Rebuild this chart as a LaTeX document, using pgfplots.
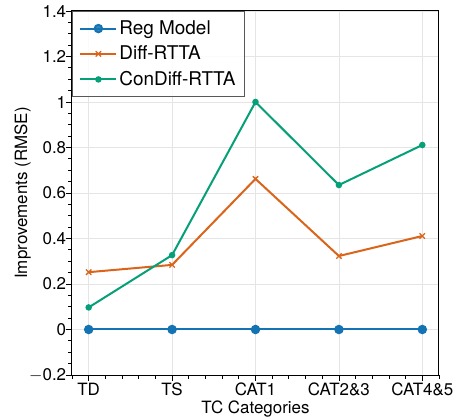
\documentclass[border=0pt]{standalone}
\usepackage{fontspec}
\setmainfont{TeX Gyre Heros}
\usepackage{pgfplots}
\pgfplotsset{compat=1.18}
\definecolor{cblue}{HTML}{1473B3}
\definecolor{corange}{HTML}{D9641A}
\definecolor{cgreen}{HTML}{06A078}
\begin{document}
\fontsize{17}{20}\selectfont
\begin{tikzpicture}
\useasboundingbox (-72bp,-45bp) rectangle (386bp,375bp);
\begin{axis}[
  at={(0,0)}, anchor=south west,
  scale only axis, width=367bp, height=364bp,
  xmin=-0.2, xmax=4.2, ymin=-0.2, ymax=1.4,
  xtick={0,1,2,3,4},
  xticklabels={TD,TS,CAT1,CAT2\&3,CAT4\&5},
  minor xtick={-0.2,0.2,0.4,0.6,0.8,1.2,1.4,1.6,1.8,2.2,2.4,2.6,2.8,3.2,3.4,3.6,3.8,4.2},
  ytick={-0.2,0,0.2,0.4,0.6,0.8,1,1.2,1.4},
  yticklabels={$-$0.2,0,0.2,0.4,0.6,0.8,1,1.2,1.4},
  minor y tick num=3,
  xtick pos=bottom, ytick pos=left,
  tick align=outside,
  major tick length=6bp, minor tick length=3.5bp,
  every tick/.style={black, line width=0.8bp},
  axis line style={line width=1bp},
  grid=major,
  major grid style={gray!20, line width=0.6bp},
  xlabel={TC Categories}, ylabel={Improvements (RMSE)},
  xlabel style={yshift=7bp},
  ylabel style={yshift=-13bp},
  tick label style={font=\fontsize{17}{20}\selectfont},
  xticklabel style={yshift=4bp},
  yticklabel style={xshift=6bp},
  label style={font=\fontsize{17}{20}\selectfont},
  legend style={at={(0,1)}, anchor=north west, draw=black!65, line width=0.8bp, fill=white, fill opacity=0.85, text opacity=1,
    font=\fontsize{19}{22}\selectfont, inner xsep=7bp, inner ysep=7bp, row sep=5bp, cells={anchor=west}},
  legend cell align=left,
  legend image code/.code={
    \draw[mark repeat=2,mark phase=2,#1] plot coordinates {(0bp,0bp) (18bp,0bp) (36bp,0bp)};
  },
]
\addplot[cblue, line width=2bp, mark=*, mark size=3.7bp, mark options={solid, fill=cblue}] coordinates {
(0,0) (1,0) (2,0) (3,0) (4,0)};
\addlegendentry{Reg Model}
\addplot[corange, line width=2bp, mark=x, mark size=3.8bp, mark options={solid, line width=1.3bp}] coordinates {
(0,0.252) (1,0.284) (2,0.662) (3,0.323) (4,0.411)};
\addlegendentry{Diff-RTTA}
\addplot[cgreen, line width=2bp, mark=*, mark size=2.2bp, mark options={solid, fill=cgreen}] coordinates {
(0,0.097) (1,0.327) (2,1.0) (3,0.635) (4,0.811)};
\addlegendentry{ConDiff-RTTA}
\end{axis}
\end{tikzpicture}
\end{document}
